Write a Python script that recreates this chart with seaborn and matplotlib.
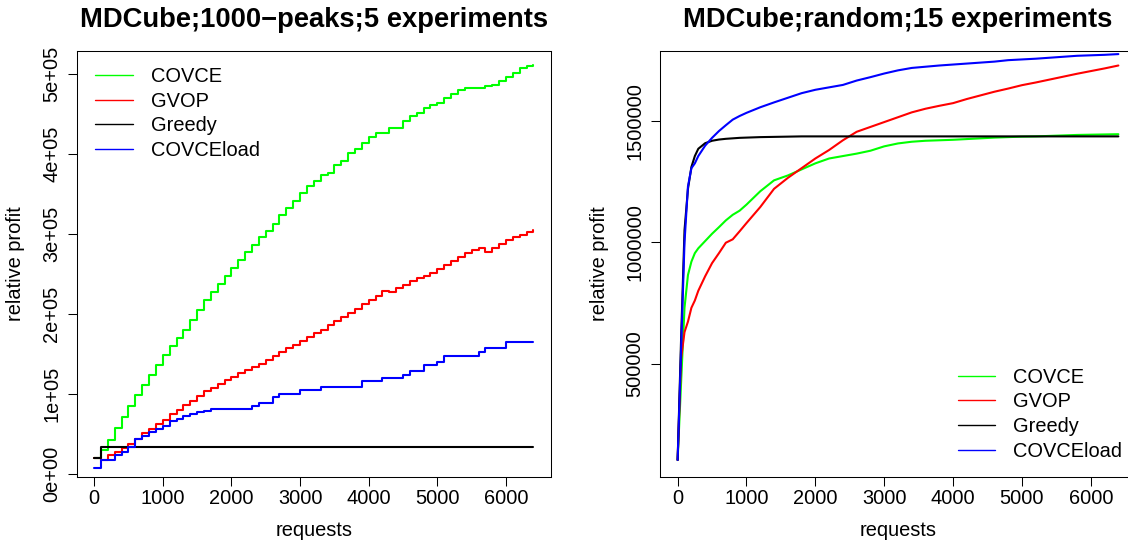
import matplotlib
matplotlib.use('Agg')
import matplotlib.pyplot as plt
import seaborn as sns
import pandas as pd
from matplotlib.lines import Line2D

# ---------------- data ----------------
series_names = ['COVCE', 'GVOP', 'Greedy', 'COVCEload']
series_colors = ['#00FF00', '#FF0000', '#000000', '#0000FF']

titles = ['MDCube;1000\u2212peaks;5 experiments', 'MDCube;random;15 experiments']
x_label = 'requests'
y_label = 'relative profit'

x_ticks = [0, 1000, 2000, 3000, 4000, 5000, 6000]
x_tick_labels = ['0', '1000', '2000', '3000', '4000', '5000', '6000']
left_y_ticks = [0, 100000, 200000, 300000, 400000, 500000]
left_y_tick_labels = ['0e+00', '1e+05', '2e+05', '3e+05', '4e+05', '5e+05']
right_y_ticks = [500000, 1000000, 1500000]
right_y_tick_labels = ['500000', '1000000', '1500000']

# left panel (values in units of 1e5)
left_requests = [0, 100, 200, 300, 400, 500, 600, 700, 800, 900,
                 1000, 1100, 1200, 1300, 1400, 1500, 1600, 1700, 1800, 1900,
                 2000, 2100, 2200, 2300, 2400, 2500, 2600, 2700, 2800, 2900,
                 3000, 3100, 3200, 3300, 3400, 3500, 3600, 3700, 3800, 3900,
                 4000, 4100, 4200, 4300, 4400, 4500, 4600, 4700, 4800, 4900,
                 5000, 5100, 5200, 5300, 5400, 5500, 5600, 5700, 5800, 5900,
                 6000, 6100, 6200, 6300, 6400]
left_covce = [0.20, 0.30, 0.42, 0.57, 0.71, 0.85, 0.99, 1.11, 1.24, 1.36,
              1.49, 1.60, 1.70, 1.80, 1.92, 2.05, 2.17, 2.28, 2.38, 2.47,
              2.57, 2.68, 2.77, 2.86, 2.96, 3.04, 3.13, 3.24, 3.33, 3.42,
              3.52, 3.60, 3.67, 3.74, 3.76, 3.86, 3.92, 4.01, 4.06, 4.14,
              4.22, 4.27, 4.27, 4.33, 4.33, 4.42, 4.48, 4.52, 4.58, 4.61,
              4.64, 4.70, 4.75, 4.80, 4.83, 4.83, 4.83, 4.85, 4.86, 4.91,
              4.96, 5.01, 5.08, 5.10, 5.11]
left_gvop = [0.20, 0.17, 0.24, 0.28, 0.33, 0.38, 0.44, 0.51, 0.56, 0.63,
             0.68, 0.75, 0.80, 0.86, 0.91, 0.97, 1.04, 1.08, 1.13, 1.17,
             1.21, 1.26, 1.30, 1.34, 1.38, 1.43, 1.48, 1.52, 1.57, 1.61,
             1.66, 1.71, 1.76, 1.80, 1.86, 1.91, 1.96, 2.01, 2.06, 2.12,
             2.17, 2.23, 2.29, 2.28, 2.32, 2.36, 2.41, 2.45, 2.48, 2.51,
             2.56, 2.61, 2.66, 2.71, 2.76, 2.80, 2.82, 2.78, 2.83, 2.88,
             2.92, 2.96, 2.99, 3.03, 3.05]
left_greedy = [0.20] + [0.34] * 64
left_covceload = [0.08, 0.17, 0.17, 0.24, 0.28, 0.34, 0.44, 0.48, 0.52, 0.56,
                  0.60, 0.66, 0.69, 0.73, 0.75, 0.77, 0.79, 0.81, 0.81, 0.81,
                  0.81, 0.81, 0.81, 0.85, 0.89, 0.89, 0.96, 1.00, 1.00, 1.00,
                  1.05, 1.05, 1.05, 1.09, 1.09, 1.09, 1.09, 1.09, 1.09, 1.16,
                  1.16, 1.16, 1.20, 1.20, 1.20, 1.24, 1.29, 1.29, 1.36, 1.36,
                  1.40, 1.48, 1.48, 1.48, 1.48, 1.48, 1.53, 1.57, 1.57, 1.57,
                  1.65, 1.65, 1.65, 1.65, 1.65]

# right panel (values in units of 1e5)
right_requests = [0, 50, 100, 150, 200, 250, 300, 400, 500, 600, 700, 800, 900, 1000,
                  1200, 1400, 1600, 1800, 2000, 2200, 2400, 2600, 2800, 3000,
                  3200, 3400, 3600, 3800, 4000, 4200, 4400, 4600, 4800, 5000,
                  5200, 5400, 5600, 5800, 6000, 6200, 6400]
right_covce = [1.03, 4.2, 7.3, 8.65, 9.2, 9.55, 9.75, 10.05, 10.35, 10.62, 10.9, 11.13, 11.3, 11.55,
               12.1, 12.55, 12.75, 13.0, 13.25, 13.45, 13.55, 13.65, 13.77, 13.95,
               14.07, 14.14, 14.18, 14.2, 14.22, 14.25, 14.28, 14.31, 14.33, 14.35,
               14.36, 14.38, 14.40, 14.42, 14.43, 14.44, 14.45]
right_gvop = [1.03, 5.2, 6.3, 6.73, 7.3, 7.6, 8.0, 8.6, 9.14, 9.55, 9.98, 10.12, 10.45, 10.79,
              11.45, 12.2, 12.65, 13.05, 13.45, 13.8, 14.2, 14.55, 14.75, 14.95,
              15.15, 15.35, 15.5, 15.62, 15.73, 15.9, 16.05, 16.2, 16.33, 16.47,
              16.58, 16.7, 16.82, 16.94, 17.05, 17.16, 17.28]
right_greedy = [1.03, 6.0, 10.5, 12.2, 13.1, 13.55, 13.85, 14.08, 14.18, 14.23, 14.26, 14.28, 14.30, 14.31,
                14.33, 14.34, 14.35, 14.36, 14.36, 14.36, 14.36, 14.36, 14.36, 14.36,
                14.36, 14.36, 14.36, 14.36, 14.36, 14.36, 14.36, 14.36, 14.36, 14.36,
                14.36, 14.36, 14.36, 14.36, 14.36, 14.36, 14.36]
right_covceload = [1.03, 5.6, 10.0, 12.3, 13.05, 13.25, 13.55, 13.98, 14.3, 14.58, 14.82, 15.05, 15.2, 15.33,
                   15.56, 15.76, 15.95, 16.14, 16.28, 16.38, 16.48, 16.66, 16.80, 16.95,
                   17.08, 17.18, 17.23, 17.28, 17.32, 17.36, 17.40, 17.44, 17.50, 17.53,
                   17.56, 17.60, 17.64, 17.68, 17.70, 17.72, 17.75]

UNIT = 1e5


def long_frame(req, series):
    rows = []
    for name, vals in zip(series_names, series):
        for r, v in zip(req, vals):
            rows.append({'requests': r, 'profit': v * UNIT, 'algorithm': name})
    return pd.DataFrame(rows)


df_left = long_frame(left_requests, [left_covce, left_gvop, left_greedy, left_covceload])
df_right = long_frame(right_requests, [right_covce, right_gvop, right_greedy, right_covceload])

# ---------------- style ----------------
sns.set_style('ticks')
plt.rcParams['font.family'] = ['Liberation Sans', 'DejaVu Sans']
plt.rcParams.update({
    'axes.edgecolor': 'black', 'axes.linewidth': 0.75,
    'xtick.color': 'black', 'ytick.color': 'black',
    'text.color': 'black', 'axes.labelcolor': 'black',
    'axes.unicode_minus': True,
})

W, H = 1128, 547
fig = plt.figure(figsize=(W / 100, H / 100), dpi=100)
top_px, bot_px = 50.5, 476.7
ax1 = fig.add_axes([76.6 / W, 1 - bot_px / H, (551 - 76.6) / W, (bot_px - top_px) / H])
ax2 = fig.add_axes([660 / W, 1 - bot_px / H, (1136 - 660) / W, (bot_px - top_px) / H])

palette = dict(zip(series_names, series_colors))
FS = 14.4

sns.lineplot(data=df_left, x='requests', y='profit', hue='algorithm', hue_order=series_names,
             palette=palette, estimator=None, legend=False, drawstyle='steps-post',
             linewidth=1.5, ax=ax1)
sns.lineplot(data=df_right, x='requests', y='profit', hue='algorithm', hue_order=series_names,
             palette=palette, estimator=None, legend=False, linewidth=1.5, ax=ax2)

ax1.set_xlim(-256, 6656)
ax2.set_xlim(-256, 6656)
ax1.set_ylim(-3500, 529700)
ax2.set_ylim(34200, 1789800)

for ax, yt, ytl, title, leg_xy in [
        (ax1, left_y_ticks, left_y_tick_labels, titles[0], (0.0388, 0.9608)),
        (ax2, right_y_ticks, right_y_tick_labels, titles[1], (0.6254, 0.2554))]:
    ax.set_xticks(x_ticks, x_tick_labels)
    ax.set_yticks(yt, ytl)
    for s in ax.spines.values():
        s.set_visible(True)
        s.set_color('black')
        s.set_linewidth(0.75)
    ax.tick_params(axis='both', direction='out', length=6.8, width=0.75, labelsize=FS)
    ax.tick_params(axis='x', pad=1.7)
    ax.tick_params(axis='y', pad=4.2, labelrotation=90)
    for lbl in ax.get_yticklabels():
        lbl.set_va('center')
    ax.set_xlabel(x_label, fontsize=FS)
    ax.set_ylabel(y_label, fontsize=FS)
    ax.xaxis.set_label_coords(0.5, -0.138)
    ax.xaxis.label.set_va('baseline')
    ax.set_title(title, fontsize=19.7, fontweight='bold', pad=0, y=1.0547)
    handles = [Line2D([], [], color=c, lw=1.0) for c in series_colors]
    ax.legend(handles, series_names, loc='upper left', bbox_to_anchor=leg_xy,
              frameon=False, fontsize=FS, handlelength=1.88, handletextpad=0.9,
              labelspacing=0.28, borderpad=0, borderaxespad=0)

ax1.yaxis.set_label_coords(-0.1083, 0.5)
ax2.yaxis.set_label_coords(-0.107, 0.5)

fig.savefig('out.png', dpi=100)
